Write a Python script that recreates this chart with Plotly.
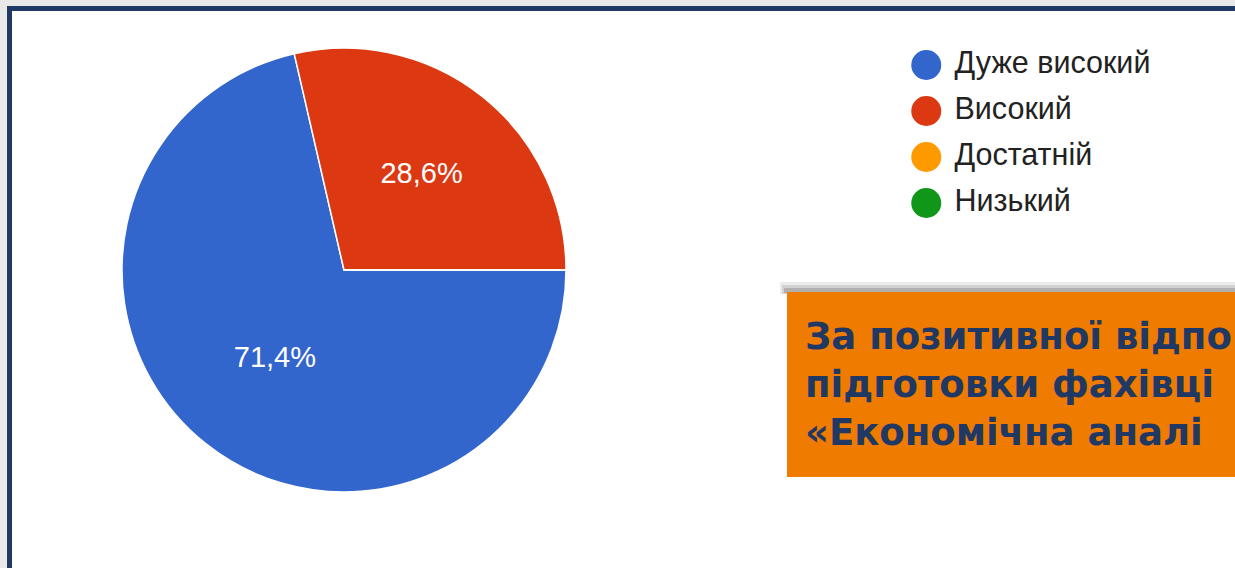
import plotly.graph_objects as go

# ---- data ----
labels = ["Дуже високий", "Високий", "Достатній", "Низький"]
values = [71.4, 28.6, 0, 0]
colors = ["#3366CC", "#DC3912", "#FF9900", "#109618"]
label_pos = ["inside", "inside", "none", "none"]
# text of the orange box, as much as the reference shows (it is cut at the right edge)
box_lines = ["За позитивної відпо", "підготовки фахівці", "«Економічна аналі"]

W, H = 1235, 568

fig = go.Figure()

fig.add_trace(go.Pie(
    labels=labels,
    values=values,
    sort=False,
    direction="clockwise",
    rotation=90,
    marker=dict(colors=colors, line=dict(color="white", width=1.5)),
    texttemplate="%{percent:.1%}",
    textposition=label_pos,
    insidetextorientation="horizontal",
    textfont=dict(family="Liberation Sans, Arial, sans-serif", size=29, color="white"),
    domain=dict(x=[(344 - 222) / W, (344 + 222) / W], y=[1 - 492 / H, 1 - 48 / H]),
    showlegend=False,
    hoverinfo="label+percent",
))

# custom legend with round markers
fig.add_trace(go.Scatter(
    x=[0] * len(labels),
    y=labels,
    mode="markers+text",
    marker=dict(size=30, color=colors, symbol="circle"),
    text=labels,
    texttemplate="\u00a0%{text}",
    textposition="middle right",
    textfont=dict(family="Liberation Sans, Arial, sans-serif", size=30.5, color="#222222"),
    cliponaxis=False,
    showlegend=False,
    hoverinfo="skip",
    xaxis="x", yaxis="y",
))

shapes = [
    # outer frame
    dict(type="rect", xref="paper", yref="paper",
         x0=9.5 / W, x1=1.05, y0=-0.05, y1=1 - 8.5 / H,
         fillcolor="white", line=dict(color="#1F3864", width=5), layer="below"),
    # soft shadow above orange box
    dict(type="rect", xref="paper", yref="paper",
         x0=780 / W, x1=1.05, y0=1 - 294 / H, y1=1 - 282 / H,
         fillcolor="#ececec", line=dict(width=0), layer="below"),
    dict(type="rect", xref="paper", yref="paper",
         x0=782 / W, x1=1.05, y0=1 - 294 / H, y1=1 - 285 / H,
         fillcolor="#d2d2d2", line=dict(width=0), layer="below"),
    dict(type="rect", xref="paper", yref="paper",
         x0=784 / W, x1=1.05, y0=1 - 293 / H, y1=1 - 288 / H,
         fillcolor="#b0b0b0", line=dict(width=0), layer="below"),
    # orange box
    dict(type="rect", xref="paper", yref="paper",
         x0=787 / W, x1=1.05, y0=1 - 477 / H, y1=1 - 292 / H,
         fillcolor="#EF7B00", line=dict(width=0), layer="below"),
]

fig.add_annotation(
    xref="paper", yref="paper",
    x=803 / W, y=1 - 384 / H,
    xanchor="left", yanchor="middle", align="left",
    text="<br>".join(box_lines),
    showarrow=False,
    font=dict(family="DejaVu Sans, sans-serif", size=37, color="#1F3864", weight="bold"),
)

fig.update_layout(
    width=W, height=H,
    margin=dict(l=0, r=0, t=0, b=0),
    paper_bgcolor="#e9e9e9",
    plot_bgcolor="rgba(0,0,0,0)",
    shapes=shapes,
    separators=", ",
    xaxis=dict(domain=[0.70, 0.80], range=[-1, 1], visible=False, fixedrange=True),
    yaxis=dict(domain=[1 - 226 / H, 1 - 42 / H], type="category",
               range=[3.5, -0.5], visible=False, fixedrange=True),
)

fig.write_html(
    "out.html",
    config={"displayModeBar": False},
    post_script="document.body.style.margin='0';document.body.style.overflow='hidden';",
)
